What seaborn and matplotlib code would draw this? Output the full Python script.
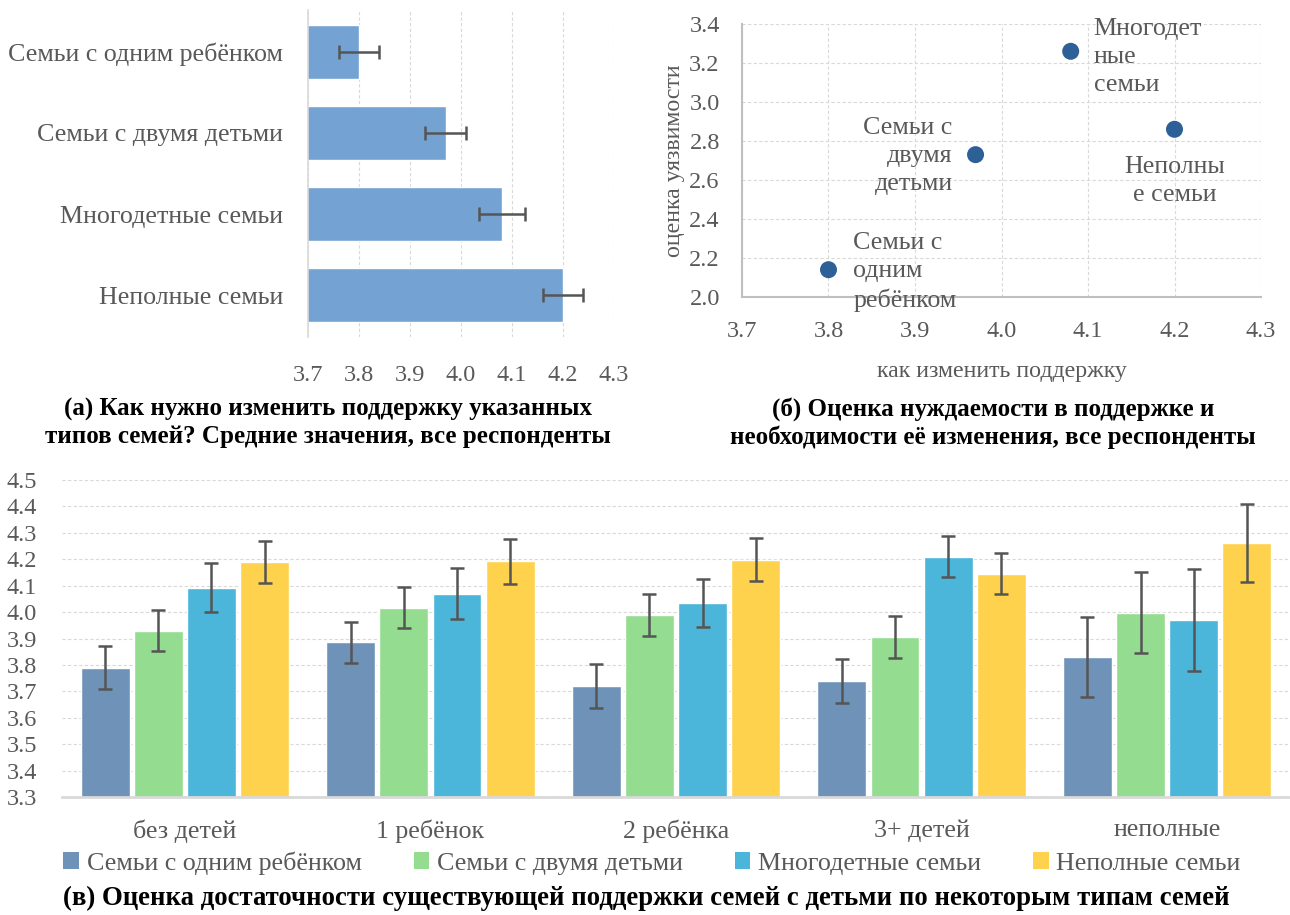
import matplotlib
matplotlib.use('Agg')
import matplotlib.pyplot as plt
import seaborn as sns
import pandas as pd
import numpy as np
from matplotlib.patches import Patch
from matplotlib.container import BarContainer

# ---------------- data ----------------
family_types = ['Семьи с одним ребёнком', 'Семьи с двумя детьми',
                'Многодетные семьи', 'Неполные семьи']
support_change = [3.80, 3.97, 4.08, 4.20]
support_err = [0.04, 0.04, 0.045, 0.04]
vulnerability = [2.14, 2.73, 3.26, 2.86]
scatter_labels = ['Семьи с\nодним\nребёнком', 'Семьи с\nдвумя\nдетьми',
                  'Многодет\nные\nсемьи', 'Неполны\nе семьи']

groups = ['без детей', '1 ребёнок', '2 ребёнка', '3+ детей', 'неполные']
one_child = [3.79, 3.885, 3.72, 3.74, 3.83]
two_children = [3.93, 4.017, 3.99, 3.906, 3.998]
many_children = [4.092, 4.069, 4.034, 4.21, 3.97]
single_parent = [4.19, 4.193, 4.198, 4.145, 4.262]
one_child_err = [0.083, 0.076, 0.082, 0.084, 0.153]
two_children_err = [0.079, 0.078, 0.079, 0.081, 0.153]
many_children_err = [0.092, 0.097, 0.092, 0.079, 0.192]
single_parent_err = [0.080, 0.085, 0.081, 0.077, 0.148]

x_ticks_top = [3.7, 3.8, 3.9, 4.0, 4.1, 4.2, 4.3]
y_ticks_scatter = [2.0, 2.2, 2.4, 2.6, 2.8, 3.0, 3.2, 3.4]
y_ticks_bottom = [3.3, 3.4, 3.5, 3.6, 3.7, 3.8, 3.9, 4.0, 4.1, 4.2, 4.3, 4.4, 4.5]

caption_a = '(а) Как нужно изменить поддержку указанных\nтипов семей? Средние значения, все респонденты'
caption_b = '(б) Оценка нуждаемости в поддержке и\nнеобходимости её изменения, все респонденты'
caption_c = '(в) Оценка достаточности существующей поддержки семей с детьми по некоторым типам семей'

# ---------------- style ----------------
sns.set_theme(style='white')
plt.rcParams['font.family'] = ['Liberation Serif', 'DejaVu Serif']
TXT = '#595959'
GRID = '#D9D9D9'
ERR = '#555555'
series_colors = ['#6F93B8', '#94DC90', '#4BB5DA', '#FED24C']
bar_a_color = '#74A3D3'
point_color = '#2E6098'
FS = 18.7
FS_TICK = 17.5
FS_CAP = 18

W, H = 1290, 915
fig = plt.figure(figsize=(W / 100, H / 100), dpi=100)


def px_axes(left, top, right, bottom):
    return fig.add_axes([left / W, 1 - bottom / H, (right - left) / W, (bottom - top) / H])


# ---------------- (а) horizontal bars ----------------
ax1 = px_axes(308, 10, 614, 337)
df_a = pd.DataFrame({'type': family_types, 'value': support_change})
sns.barplot(data=df_a, x='value', y='type', orient='h', color=bar_a_color,
            width=0.67, errorbar=None, ax=ax1, saturation=1)
ax1.errorbar(support_change, np.arange(len(family_types)), xerr=support_err,
             fmt='none', ecolor=ERR, elinewidth=1.8, capsize=5, capthick=1.8)
ax1.set_xlim(3.7, 4.3)
ax1.set_xticks(x_ticks_top)
ax1.set_xticklabels([f'{v:.1f}' for v in x_ticks_top])
ax1.set_xlabel('')
ax1.set_ylabel('')
ax1.xaxis.grid(True, linestyle=(0, (3, 2)), color=GRID, linewidth=0.8)
ax1.set_axisbelow(True)
for s in ['top', 'right', 'bottom']:
    ax1.spines[s].set_visible(False)
ax1.spines['left'].set_color(GRID)
ax1.spines['left'].set_linewidth(1.2)
ax1.tick_params(axis='x', length=0, pad=20, labelsize=FS_TICK, labelcolor=TXT)
ax1.tick_params(axis='y', length=0, pad=18, labelsize=FS, labelcolor=TXT)

# ---------------- (б) scatter ----------------
ax2 = px_axes(742, 24, 1261, 297)
df_b = pd.DataFrame({'x': support_change, 'y': vulnerability, 'label': scatter_labels})
sns.scatterplot(data=df_b, x='x', y='y', color=point_color, s=150, edgecolor='none', ax=ax2)
ax2.set_xlim(3.7, 4.3)
ax2.set_ylim(2.0, 3.4)
ax2.set_xticks(x_ticks_top)
ax2.set_xticklabels([f'{v:.1f}' for v in x_ticks_top])
ax2.set_yticks(y_ticks_scatter)
ax2.set_yticklabels([f'{v:.1f}' for v in y_ticks_scatter])
ax2.grid(True, linestyle=(0, (3, 2)), color=GRID, linewidth=0.8)
ax2.set_axisbelow(True)
for s in ['top', 'right']:
    ax2.spines[s].set_visible(False)
for s in ['left', 'bottom']:
    ax2.spines[s].set_color('#BFBFBF')
    ax2.spines[s].set_linewidth(1.5)
ax2.tick_params(axis='both', length=0, labelsize=FS_TICK, labelcolor=TXT)
ax2.tick_params(axis='x', pad=17)
ax2.tick_params(axis='y', pad=16)
ax2.set_xlabel('как изменить поддержку', fontsize=FS - 1.5, color=TXT, labelpad=14)
ax2.set_ylabel('оценка уязвимости', fontsize=FS - 1.5, color=TXT, labelpad=3)

label_layout = [  # (dx px, dy px, ha)
    (25, -2, 'left'),
    (-23, -1, 'right'),
    (23, -6, 'left'),
    (0, -52, 'center'),
]
for (xv, yv, lab), (dx, dy, ha) in zip(zip(support_change, vulnerability, scatter_labels), label_layout):
    ax2.annotate(lab, xy=(xv, yv), xytext=(dx * 0.72, dy * 0.72), textcoords='offset points',
                 ha=ha, va='center', multialignment=ha, fontsize=FS, color=TXT,
                 linespacing=1.35)

# ---------------- (в) grouped bars ----------------
ax3 = px_axes(62, 480, 1290, 797)
values = [one_child, two_children, many_children, single_parent]
errors = [one_child_err, two_children_err, many_children_err, single_parent_err]
rows = []
for ft, vals, errs in zip(family_types, values, errors):
    for g, v, e in zip(groups, vals, errs):
        rows.append({'group': g, 'series': ft, 'value': v, 'err': e})
df_c = pd.DataFrame(rows)
sns.barplot(data=df_c, x='group', y='value', hue='series', order=groups,
            hue_order=family_types, palette=series_colors, width=0.866, gap=0.08,
            errorbar=None, ax=ax3, saturation=1, legend=False)
bar_conts = [c for c in ax3.containers if isinstance(c, BarContainer)]
for ci, cont in enumerate(bar_conts):
    for bar in cont.patches:
        xc = bar.get_x() + bar.get_width() / 2
        gi = int(round(xc))
        ax3.errorbar(xc, values[ci][gi], yerr=errors[ci][gi], fmt='none',
                     ecolor=ERR, elinewidth=1.8, capsize=5, capthick=1.8)
ax3.set_ylim(3.3, 4.5)
ax3.set_xlim(-0.5, 4.5)
ax3.set_yticks(y_ticks_bottom)
ax3.set_yticklabels([f'{v:.1f}' for v in y_ticks_bottom])
ax3.set_xlabel('')
ax3.set_ylabel('')
ax3.yaxis.grid(True, linestyle=(0, (3, 2)), color=GRID, linewidth=0.8)
ax3.set_axisbelow(True)
for s in ['top', 'right', 'left']:
    ax3.spines[s].set_visible(False)
ax3.spines['bottom'].set_color(GRID)
ax3.spines['bottom'].set_linewidth(2)
ax3.tick_params(axis='y', length=0, pad=18, labelsize=FS_TICK, labelcolor=TXT)
ax3.tick_params(axis='x', length=0, pad=16, labelsize=FS, labelcolor=TXT)

handles = [Patch(facecolor=c, edgecolor='none') for c in series_colors]
fig.legend(handles=handles, labels=family_types, loc='center',
           bbox_to_anchor=(652 / W, 1 - 863 / H), ncol=4, frameon=False,
           handlelength=0.6, handleheight=0.6, handletextpad=0.3,
           columnspacing=2.0, fontsize=FS, labelcolor=TXT)

# ---------------- captions ----------------
fig.text(328 / W, 1 - 423 / H, caption_a, ha='center', va='center', fontsize=FS_CAP,
         fontweight='bold', color='black', linespacing=1.2)
fig.text(993 / W, 1 - 423 / H, caption_b, ha='center', va='center', fontsize=FS_CAP,
         fontweight='bold', color='black', linespacing=1.2)
fig.text(646 / W, 1 - 898 / H, caption_c, ha='center', va='center', fontsize=19.3,
         fontweight='bold', color='black')

fig.savefig('out.png', dpi=100)
